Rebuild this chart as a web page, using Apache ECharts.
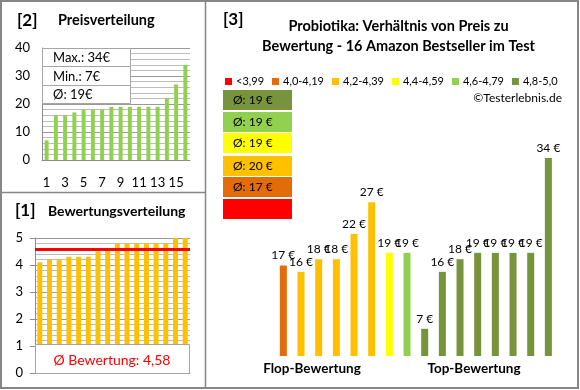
<!DOCTYPE html>
<html>
<head>
<meta charset="utf-8">
<script src="https://cdn.jsdelivr.net/npm/echarts@6/dist/echarts.min.js"></script>
<style>
html,body{margin:0;padding:0;background:#fff;}
#c{width:580px;height:390px;}
</style>
</head>
<body>
<div id="c"></div>
<script>
// ---- data ----
const priceCategories = ['1','2','3','4','5','6','7','8','9','10','11','12','13','14','15','16'];
const priceSorted = [7,16,16,17,18,18,18,19,19,19,19,19,19,22,27,34];
const priceStatLabels = ['Max.: 34€','Min.: 7€','Ø: 19€'];
const ratingSorted = [4.1,4.2,4.2,4.3,4.3,4.3,4.5,4.6,4.8,4.8,4.8,4.8,4.8,4.8,5.0,5.0];
const ratingAvg = 4.58;
const ratingAvgLabel = 'Ø Bewertung: 4,58';
const productPrices = [17,16,18,18,22,27,19,19,7,16,18,19,19,19,19,34];
const productClass = [1,2,2,2,2,2,3,4,5,5,5,5,5,5,5,5];
const classNames = ['<3,99','4,0-4,19','4,2-4,39','4,4-4,59','4,6-4,79','4,8-5,0'];
const classColors = ['#FF0000','#E36C09','#FFC000','#FFFF00','#92D050','#77933C'];
const classAvgLabels = ['', 'Ø: 17 €', 'Ø: 20 €', 'Ø: 19 €', 'Ø: 19 €', 'Ø: 19 €'];
const groupLabels = ['Flop-Bewertung','Top-Bewertung'];

const FF = 'Lato, "DejaVu Sans", sans-serif';
const chart = echarts.init(document.getElementById('c'), null, {renderer:'canvas'});

const rightSeries = classNames.map((n, ci) => ({
  name: n,
  type: 'bar',
  xAxisIndex: 2, yAxisIndex: 2,
  barWidth: 7,
  barGap: '-100%',
  itemStyle: {color: classColors[ci]},
  label: {show: true, position: 'top', distance: 4, formatter: '{c} €', color: '#000', fontSize: 12, fontFamily: FF},
  data: productPrices.map((v, i) => productClass[i] === ci ? v : null)
}));

// boxes for class averages (top to bottom: best class first)
const boxTops = [90,112,133,156,177,199];
const boxGraphics = [];
for (let k = 0; k < 6; k++) {
  const ci = 5 - k;
  boxGraphics.push({type:'rect', z:100, shape:{x:223, y:boxTops[k], width:69, height:20}, style:{fill:classColors[ci]}});
  if (classAvgLabels[ci]) boxGraphics.push({type:'text', z:101, x:233, y:boxTops[k]+10,
    style:{text:classAvgLabels[ci], font:'12px '+FF, fill:'#000', align:'left', verticalAlign:'middle'}});
}

const statGraphics = [
  {type:'rect', z:100, shape:{x:42.5, y:48.5, width:88, height:55}, style:{fill:'#fff', stroke:'#a6a6a6', lineWidth:1}},
  {type:'line', z:100, shape:{x1:42.5, y1:66.5, x2:130.5, y2:66.5}, style:{stroke:'#a6a6a6', lineWidth:1}},
  {type:'line', z:100, shape:{x1:42.5, y1:85.5, x2:130.5, y2:85.5}, style:{stroke:'#a6a6a6', lineWidth:1}}
];
priceStatLabels.forEach((t, i) => statGraphics.push({type:'text', z:101, x:53, y:58 + i*18.5,
  style:{text:t, font:'13px '+FF, fill:'#000', align:'left', verticalAlign:'middle'}}));

const option = {
  animation: false,
  backgroundColor: '#fff',
  legend: {
    data: classNames,
    left: 220, top: 71, width: 360,
    icon: 'rect', itemWidth: 7, itemHeight: 7, itemGap: 8,
    textStyle: {fontSize: 11, fontFamily: FF, color: '#000', padding: [0,0,0,-1]},
    selectedMode: false
  },
  grid: [
    {left: 42, top: 48, width: 148, height: 112},
    {left: 35, top: 238, width: 155, height: 135},
    {left: 274.5, top: 120, width: 282.7, height: 236}
  ],
  xAxis: [
    {type:'category', gridIndex:0, data: priceCategories,
      axisLine:{lineStyle:{color:'#8c8c8c'}}, axisTick:{show:false},
      axisLabel:{interval:1, color:'#000', fontSize:13, fontFamily:FF, margin:16}},
    {type:'category', gridIndex:1, data: priceCategories,
      axisLine:{lineStyle:{color:'#8c8c8c'}}, axisTick:{show:false}, axisLabel:{show:false}},
    {type:'category', gridIndex:2, data: priceCategories, show:false}
  ],
  yAxis: [
    {type:'value', gridIndex:0, min:0, max:40, interval:10,
      axisLine:{show:true, lineStyle:{color:'#8c8c8c'}}, axisTick:{show:false},
      axisLabel:{color:'#000', fontSize:13, fontFamily:FF, margin:12},
      splitLine:{lineStyle:{color:'#9a9a9a'}},
      minorTick:{show:false, splitNumber:5},
      minorSplitLine:{show:true, lineStyle:{color:'#bdbdbd'}}},
    {type:'value', gridIndex:1, min:0, max:5, interval:1,
      axisLine:{show:true, lineStyle:{color:'#8c8c8c'}}, axisTick:{show:true, length:5, lineStyle:{color:'#8c8c8c'}},
      axisLabel:{color:'#000', fontSize:13, fontFamily:FF, margin:12},
      splitLine:{lineStyle:{color:'#9a9a9a'}},
      minorTick:{show:false, splitNumber:5},
      minorSplitLine:{show:true, lineStyle:{color:'#bdbdbd'}}},
    {type:'value', gridIndex:2, min:2.7, max:40, show:false}
  ],
  series: [
    {type:'bar', xAxisIndex:0, yAxisIndex:0, barWidth:4, itemStyle:{color:'#92D050'}, data: priceSorted},
    {type:'bar', xAxisIndex:1, yAxisIndex:1, barWidth:5, itemStyle:{color:'#FFC000'}, data: ratingSorted,
      markLine:{silent:true, symbol:'none', label:{show:false}, lineStyle:{color:'#FF0000', width:3, type:'solid'},
        data:[{yAxis: ratingAvg}]}},
    ...rightSeries
  ],
  graphic: [
    // panel borders
    {type:'rect', z:200, shape:{x:1, y:1, width:577, height:387}, style:{fill:null, stroke:'#868686', lineWidth:2}},
    {type:'line', z:200, shape:{x1:205.5, y1:1, x2:205.5, y2:388}, style:{stroke:'#868686', lineWidth:1.5}},
    {type:'line', z:200, shape:{x1:1, y1:192.5, x2:205, y2:192.5}, style:{stroke:'#868686', lineWidth:1.5}},
    // titles
    {type:'text', x:17, y:21, style:{text:'[2]', font:'bold 17px '+FF, fill:'#000', verticalAlign:'middle'}},
    {type:'text', x:58, y:20, style:{text:'Preisverteilung', font:'bold 14.5px '+FF, fill:'#000', verticalAlign:'middle'}},
    {type:'text', x:15, y:211, style:{text:'[1]', font:'bold 17px '+FF, fill:'#000', verticalAlign:'middle'}},
    {type:'text', x:48, y:211, style:{text:'Bewertungsverteilung', font:'bold 14px '+FF, fill:'#000', verticalAlign:'middle'}},
    {type:'text', x:223, y:20, style:{text:'[3]', font:'bold 17px '+FF, fill:'#000', verticalAlign:'middle'}},
    {type:'text', x:398.5, y:26, style:{text:'Probiotika: Verhältnis von Preis zu', font:'bold 14.5px '+FF, fill:'#000', align:'center', verticalAlign:'middle'}},
    {type:'text', x:398.5, y:46, style:{text:'Bewertung - 16 Amazon Bestseller im Test', font:'bold 14.5px '+FF, fill:'#000', align:'center', verticalAlign:'middle'}},
    {type:'text', x:562, y:98, style:{text:'©Testerlebnis.de', font:'12px '+FF, fill:'#000', align:'right', verticalAlign:'middle'}},
    {type:'text', x:312, y:369, style:{text:groupLabels[0], font:'bold 13.5px '+FF, fill:'#000', align:'center', verticalAlign:'middle'}},
    {type:'text', x:474, y:369, style:{text:groupLabels[1], font:'bold 13.5px '+FF, fill:'#000', align:'center', verticalAlign:'middle'}},
    // rating average box
    {type:'rect', z:100, shape:{x:35.5, y:344.5, width:154, height:29}, style:{fill:'#fff', stroke:'#a6a6a6', lineWidth:1}},
    {type:'text', z:101, x:112, y:360, style:{text:ratingAvgLabel, font:'14px '+FF, fill:'#FF0000', align:'center', verticalAlign:'middle'}},
    ...statGraphics,
    ...boxGraphics
  ]
};
chart.setOption(option);
</script>
</body>
</html>
